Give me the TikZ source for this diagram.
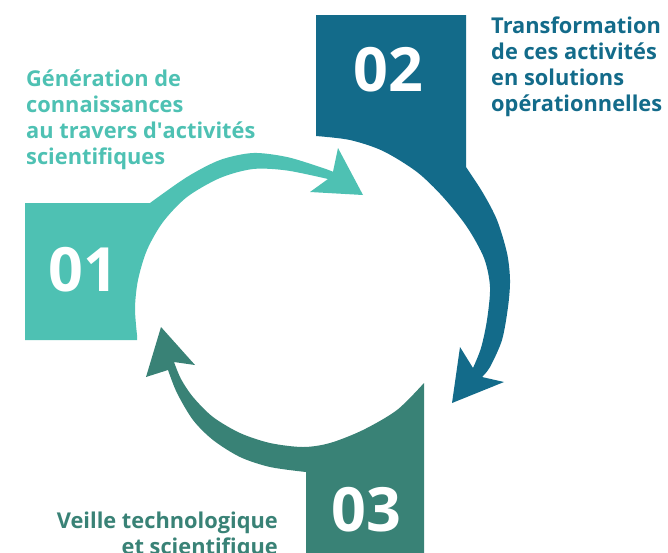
\documentclass[tikz,border=0pt]{standalone}
\usepackage{fontspec}
\setmainfont{Open Sans}
\definecolor{cteal}{HTML}{4EC1B3}
\definecolor{cblue}{HTML}{136B8A}
\definecolor{cdark}{HTML}{398276}
\tikzset{
  numtxt/.style={text=white, inner sep=0pt, font={\fontsize{61}{61}\selectfont\bfseries}},
  lbl/.style={inner sep=0pt, font={\fontsize{21.8}{26.2}\selectfont\bfseries}},
}
\begin{document}
\begin{tikzpicture}[x=1pt,y=-1pt]
\useasboundingbox (0,0) rectangle (668,552);
\clip (0,0) rectangle (668,552);
% 01 teal
\fill[cteal] (25,203) -- (150,203)
  -- plot[smooth] coordinates {(150,203) (187,177) (220,160) (253,153) (287,157) (320,167) (333,171.7)}
  -- (338,148) -- (363,195) -- (310,192) -- (328,179)
  -- plot[smooth] coordinates {(328,179) (287,170.5) (253,169) (220,178) (187,197) (163,222) (147,250) (138,280) (135,308) (137,335)}
  -- (137,340) -- (25,340) -- cycle;
% 02 blue
\fill[cblue] (316,15) -- (466,15) -- (466,167)
  -- plot[smooth] coordinates {(466,167) (483,193) (497,220) (507,253) (510,280) (508,307) (502,340) (490,367) (482,377)}
  -- (504,382) -- (452,403) -- (460,347) -- (473,368)
  -- plot[smooth] coordinates {(473,368) (481,348) (487,320) (490,287) (484,258) (467,227) (443,197) (417,172) (383,151) (350,140) (316,136)}
  -- cycle;
% 03 dark teal
\fill[cdark] (306,560) -- (306,472)
  -- plot[smooth] coordinates {(306,472) (270,467) (240,457) (213,440) (193,420) (177,393) (168,370)}
  -- (146,377) -- (161,327) -- (195,365) -- (174,362)
  -- plot[smooth] coordinates {(174,362) (181,379) (193,397) (213,417) (240,433) (270,443) (303,447) (330,443) (363,430) (397,410) (424,383)}
  -- (424,560) -- cycle;
% numbers
\node[numtxt] (n01) at (83,270) {01};
\node[numtxt] (n02) at (388,70) {02};
\node[numtxt] (n03) at (366,510) {03};
% labels
\node[lbl, text=cteal, anchor=base west] (l01) at (26,86)
  {\begin{tabular}[t]{@{}l@{}}Génération de\\connaissances\\au travers d\textquotesingle activités\\scientifiques\end{tabular}};
\node[lbl, text=cblue, anchor=base west] (l02) at (491,33)
  {\begin{tabular}[t]{@{}l@{}}Transformation\\de ces activités\\en solutions\\opérationnelles\end{tabular}};
\node[lbl, text=cdark, anchor=base east] (l03) at (278,528)
  {\begin{tabular}[t]{@{}r@{}}Veille technologique\\et scientifique\end{tabular}};
\end{tikzpicture}
\end{document}
